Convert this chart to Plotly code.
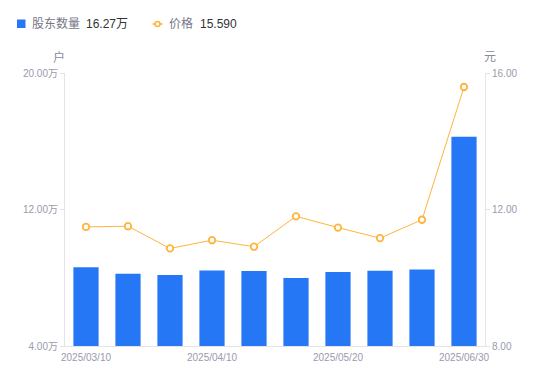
import plotly.graph_objects as go

dates = ["2025/03/10", "2025/03/20", "2025/03/31", "2025/04/10", "2025/04/18",
         "2025/04/30", "2025/05/20", "2025/05/30", "2025/06/10", "2025/06/30"]
holders = [8.61, 8.24, 8.16, 8.43, 8.39, 7.98, 8.34, 8.41, 8.49, 16.27]  # 万户
price = [11.49, 11.51, 10.86, 11.10, 10.91, 11.80, 11.47, 11.16, 11.70, 15.59]
x_ticks = ["2025/03/10", "2025/04/10", "2025/05/20", "2025/06/30"]
left_ticks = [4, 12, 20]
left_labels = ["4.00万", "12.00万", "20.00万"]
right_ticks = [8, 12, 16]
right_labels = ["8.00", "12.00", "16.00"]
legend_holders = "16.27万"
legend_price = "15.590"

FONT = "Liberation Sans, Arial, Noto Sans CJK SC, sans-serif"
BLUE = "#2677F5"
ORANGE = "#FFB43C"
AX = "#E3E3E8"
TICK = "#9A9AAE"
OFF = 8  # default page body margin
W, H = 550 - OFF, 381 - OFF
L, R, T, B = 65 - OFF, 65, 73 - OFF, 35
pw, ph = W - L - R, H - T - B


def px(x):
    return (x - OFF - L) / pw


def py(y):
    return (H - B - (y - OFF)) / ph


fig = go.Figure()
fig.add_trace(go.Bar(
    x=dates, y=holders, name="股东数量",
    marker=dict(color=BLUE, line=dict(width=0)), width=0.6, yaxis="y"))
fig.add_trace(go.Scatter(
    x=dates, y=price, mode="lines+markers", name="价格",
    line=dict(color=ORANGE, width=1),
    marker=dict(symbol="circle", size=6.5, color="white", line=dict(color=ORANGE, width=1.8)),
    yaxis="y2"))

fig.update_layout(
    width=W, height=H,
    margin=dict(l=L, r=R, t=T, b=B, autoexpand=False),
    paper_bgcolor="white", plot_bgcolor="white",
    font=dict(family=FONT, size=12, color="#666666"),
    showlegend=False,
    xaxis=dict(type="category", range=[-0.5, len(dates) - 0.5], autorange=False,
               tickmode="array", tickvals=x_ticks, ticktext=x_ticks,
               showgrid=False, showline=True, linecolor=AX, linewidth=1, automargin=False,
               ticks="", ticklabelstandoff=2,
               tickfont=dict(size=10, color=TICK), zeroline=False),
    yaxis=dict(range=[4, 20], tickmode="array", tickvals=left_ticks, ticktext=left_labels,
               showgrid=False, showline=True, linecolor=AX, linewidth=1, automargin=False,
               ticks="outside", ticklen=4, tickcolor=AX,
               tickfont=dict(size=10, color=TICK), zeroline=False),
    yaxis2=dict(range=[8, 16], overlaying="y", side="right", tickmode="array",
                tickvals=right_ticks, ticktext=right_labels, automargin=False,
                showgrid=False, showline=True, linecolor=AX, linewidth=1,
                ticks="outside", ticklen=4, tickcolor=AX,
                tickfont=dict(size=10, color=TICK), zeroline=False),
)

annotations = [
    dict(text="户", x=px(59), y=py(57), xanchor="center", yanchor="middle",
         font=dict(size=12, color="#8A8A9E")),
    dict(text="元", x=px(490), y=py(57), xanchor="center", yanchor="middle",
         font=dict(size=12, color="#8A8A9E")),
    dict(text="股东数量", x=px(30), y=py(24), xanchor="left", yanchor="middle",
         font=dict(size=12, color="#777788")),
    dict(text=legend_holders, x=px(84), y=py(24), xanchor="left", yanchor="middle",
         font=dict(size=12, color="#333333")),
    dict(text="价格", x=px(167), y=py(24), xanchor="left", yanchor="middle",
         font=dict(size=12, color="#777788")),
    dict(text=legend_price, x=px(198), y=py(24), xanchor="left", yanchor="middle",
         font=dict(size=12, color="#333333")),
]
for a in annotations:
    a.update(xref="paper", yref="paper", showarrow=False)
fig.update_layout(annotations=annotations)

fig.update_layout(shapes=[
    dict(type="rect", xref="paper", yref="paper", x0=px(17), x1=px(25.5), y0=py(19.5), y1=py(28),
         fillcolor=BLUE, line=dict(width=0), layer="above"),
    dict(type="line", xref="paper", yref="paper", x0=px(152.5), x1=px(162.5), y0=py(24), y1=py(24),
         line=dict(color=ORANGE, width=1.5), layer="above"),
    dict(type="circle", xref="paper", yref="paper", x0=px(155), x1=px(160), y0=py(21.5), y1=py(26.5),
         fillcolor="white", line=dict(color=ORANGE, width=1.6), layer="above"),
])

fig.write_html("out.html")
